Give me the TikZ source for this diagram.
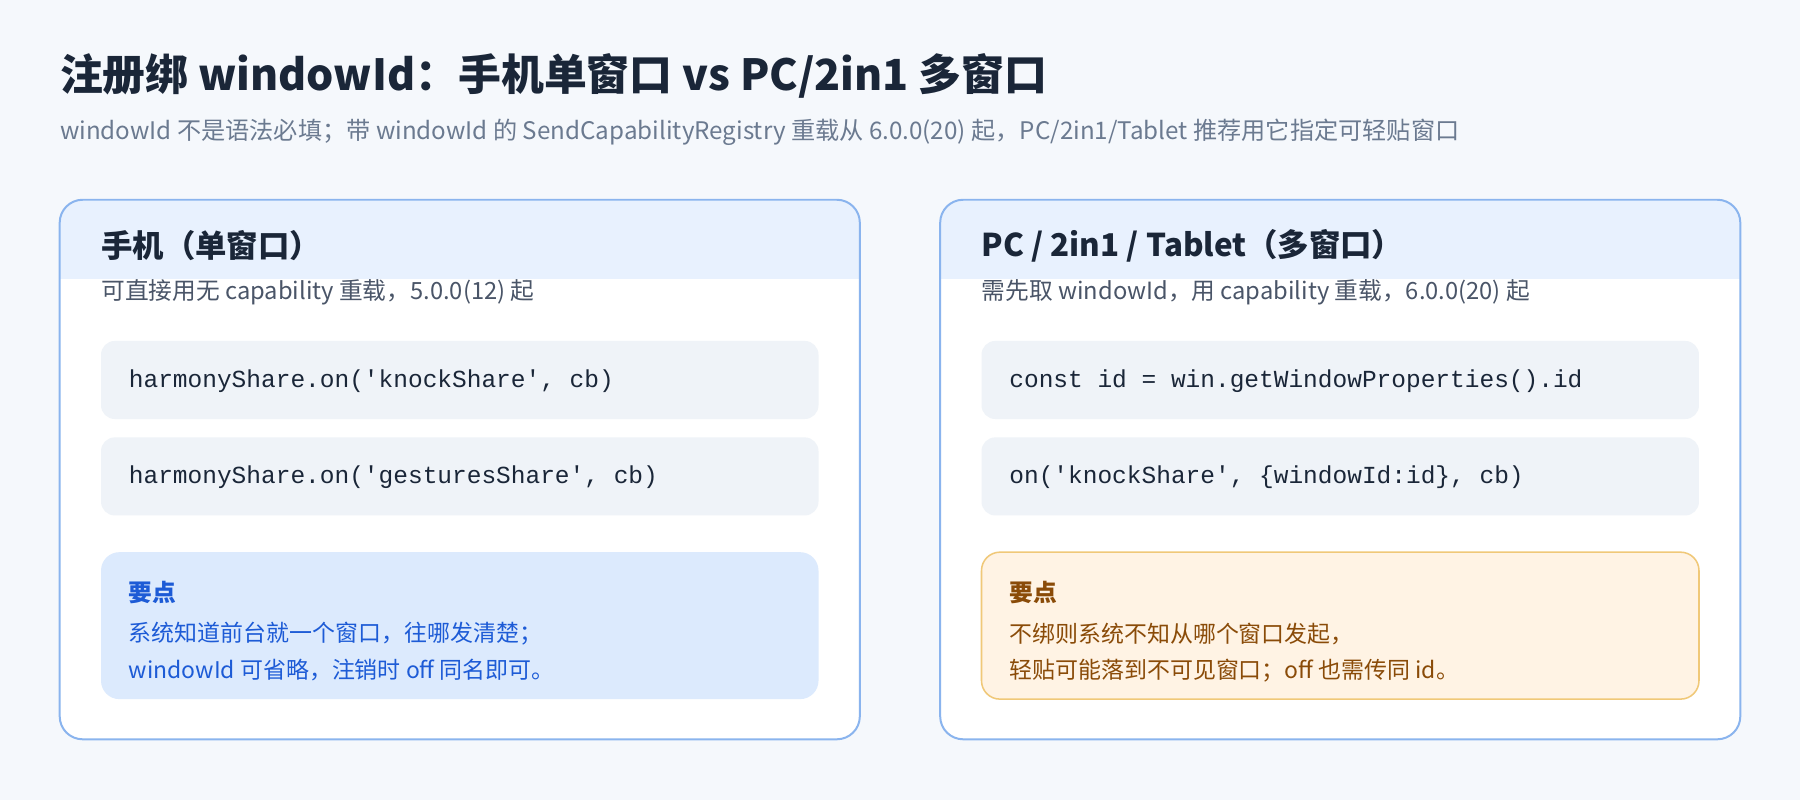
\documentclass[tikz,border=0pt]{standalone}
\usepackage{fontspec}
\setmainfont{Noto Sans CJK SC}
\setmonofont{Liberation Mono}
\usetikzlibrary{positioning}
\definecolor{bgpage}{HTML}{F5F8FC}
\definecolor{titleink}{HTML}{1A2638}
\definecolor{subink}{HTML}{6B7A90}
\definecolor{bodyink}{HTML}{4A5568}
\definecolor{cardline}{HTML}{8AB4EE}
\definecolor{headfill}{HTML}{E8F1FE}
\definecolor{codefill}{HTML}{EFF3F8}
\definecolor{notefill}{HTML}{DCEAFD}
\definecolor{noteink}{HTML}{1D5BD6}
\definecolor{warnfill}{HTML}{FFF3E4}
\definecolor{warnline}{HTML}{F0C878}
\definecolor{warnink}{HTML}{8A4B08}

\begin{document}
\begin{tikzpicture}[x=0.75pt,y=-0.75pt,
  card/.style={draw=cardline,line width=1.3pt,rounded corners=15pt},
  codebox/.style={fill=codefill,rounded corners=9pt},
  codetext/.style={anchor=west,inner sep=0pt,font=\ttfamily\fontsize{16}{18}\selectfont,text=titleink},
  headtext/.style={anchor=west,inner sep=0pt,font=\bfseries\fontsize{20.5}{24}\selectfont,text=titleink},
  bodytext/.style={anchor=west,inner sep=0pt,font=\fontsize{15.5}{18}\selectfont,text=bodyink},
  notetext/.style={anchor=west,inner sep=0pt,font=\fontsize{15}{18}\selectfont}]
\fill[bgpage] (0,0) rectangle (1568,697);
\useasboundingbox (0,0) rectangle (1568,697);
% title
\node[anchor=west,inner sep=0pt,font=\bfseries\fontsize{28}{32}\selectfont,text=titleink] (title) at (52,66) {注册绑 windowId：手机单窗口 vs PC/2in1 多窗口};
\node[anchor=west,inner sep=0pt,font=\fontsize{15.8}{18}\selectfont,text=subink] (subtitle) at (52,115) {windowId 不是语法必填；带 windowId 的 SendCapabilityRegistry 重载从 6.0.0(20) 起，PC/2in1/Tablet 推荐用它指定可轻贴窗口};
% cards
\foreach \x/\head/\sub in {52/手机（单窗口）/{可直接用无 capability 重载，5.0.0(12) 起},
                          819/{PC / 2in1 / Tablet（多窗口）}/{需先取 windowId，用 capability 重载，6.0.0(20) 起}}{
  \fill[white,rounded corners=15pt] (\x,174) rectangle ++(697,470);
  \begin{scope}
    \clip[rounded corners=15pt] (\x,174) rectangle ++(697,470);
    \fill[headfill] (\x,174) rectangle ++(697,69);
  \end{scope}
  \draw[card] (\x,174) rectangle ++(697,470);
  \node[headtext] at (\x+36,214) {\head};
  \node[bodytext] at (\x+36,255) {\sub};
  \fill[codebox] (\x+36,297) rectangle ++(625,68);
  \fill[codebox] (\x+36,381) rectangle ++(625,68);
}
\node[codetext] (phoneA) at (112,332) {harmonyShare.on('knockShare', cb)};
\node[codetext] (phoneB) at (112,416) {harmonyShare.on('gesturesShare', cb)};
\node[codetext] (pcA) at (879,332) {const id = win.getWindowProperties().id};
\node[codetext] (pcB) at (879,416) {on('knockShare', \{windowId:id\}, cb)};
% notes
\fill[notefill,rounded corners=12pt] (88,481) rectangle (713,609);
\node[notetext,text=noteink,font=\bfseries\fontsize{15.5}{18}\selectfont] (phoneKey) at (112,516) {要点};
\node[notetext,text=noteink] (phoneL1) at (112,552) {系统知道前台就一个窗口，往哪发清楚；};
\node[notetext,text=noteink] (phoneL2) at (112,584) {windowId 可省略，注销时 off 同名即可。};
\filldraw[fill=warnfill,draw=warnline,line width=1pt,rounded corners=12pt] (855,481) rectangle (1480,609);
\node[notetext,text=warnink,font=\bfseries\fontsize{15.5}{18}\selectfont] (pcKey) at (879,516) {要点};
\node[notetext,text=warnink] (pcL1) at (879,552) {不绑则系统不知从哪个窗口发起，};
\node[notetext,text=warnink] (pcL2) at (879,584) {轻贴可能落到不可见窗口；off 也需传同 id。};
\end{tikzpicture}
\end{document}
